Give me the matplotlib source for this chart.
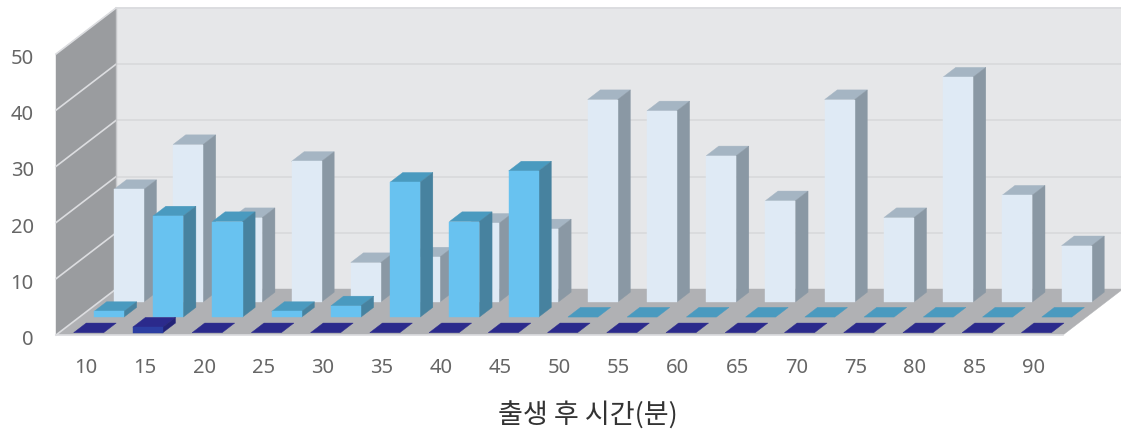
import matplotlib
matplotlib.use('Agg')
import matplotlib.pyplot as plt
from matplotlib.patches import Polygon
from matplotlib.transforms import ScaledTranslation

minutes = [10, 15, 20, 25, 30, 35, 40, 45, 50, 55, 60, 65, 70, 75, 80, 85, 90]
back_values = [20, 28, 15, 25, 7, 8, 14, 13, 36, 34, 26, 18, 36, 15, 40, 19, 10]
mid_values = [1, 18, 17, 1, 2, 24, 17, 26, 0, 0, 0, 0, 0, 0, 0, 0, 0]
front_values = [0, 1, 0, 0, 0, 0, 0, 0, 0, 0, 0, 0, 0, 0, 0, 0, 0]
y_ticks = [0, 10, 20, 30, 40, 50]

# one unit of depth, in data units (60px right and 46px up on the picture)
DX = 60 / 59.2
DY = 46 / 5.62
BAR_W = 30 / 59.2
BAR_GAP = (1 - BAR_W) / 2
BAR_DEPTH = 0.21

fig = plt.figure(figsize=(11.21, 4.30), dpi=100)
ax = fig.add_axes([56 / 1121, 1 - 335 / 430, 1007 / 1121, 281 / 430])
ax.set_xlim(0, len(minutes))
ax.set_ylim(0, 50)
ax.patch.set_alpha(0)
for spine in ax.spines.values():
    spine.set_visible(False)


def shape(points, color, zorder):
    ax.add_patch(Polygon(points, closed=True, facecolor=color, edgecolor=color,
                         linewidth=0.3, clip_on=False, zorder=zorder))


def draw_walls():
    n = len(minutes)
    shape([(DX, DY), (n + DX, DY), (n + DX, 50 + DY), (DX, 50 + DY)], '#e6e7e9', 1)
    shape([(0, 0), (n, 0), (n + DX, DY), (DX, DY)], '#b0b1b4', 1.5)
    shape([(0, 0), (DX, DY), (DX, 50 + DY), (0, 50)], '#9a9c9f', 1.5)
    for tick in y_ticks[1:]:
        ax.plot([DX, n + DX], [tick + DY, tick + DY], color='#d8d9db', lw=1.2,
                clip_on=False, zorder=1.2)
    for tick in y_ticks:
        ax.plot([0, DX], [tick, tick + DY], color='#dcdde0', lw=1.2,
                clip_on=False, zorder=1.8)
    ax.plot([0, n], [0, 0], color='#dcdde0', lw=1.2, clip_on=False, zorder=1.8)
    ax.plot([DX, DX], [DY, 50 + DY], color='#c6c7ca', lw=1, clip_on=False, zorder=1.8)
    ax.plot([DX, n + DX], [50 + DY, 50 + DY], color='#dcdde0', lw=1.2,
            clip_on=False, zorder=1.8)


def draw_series(values, depth, front_color, top_color, side_color, zorder):
    x_off = depth * DX
    y_off = depth * DY
    dx = BAR_DEPTH * DX
    dy = BAR_DEPTH * DY
    for i, value in enumerate(values):
        left = i + BAR_GAP + x_off
        right = left + BAR_W
        top = y_off + value
        shape([(left, top), (right, top), (right + dx, top + dy), (left + dx, top + dy)],
              top_color, zorder)
        if value > 0:
            shape([(right, y_off), (right + dx, y_off + dy), (right + dx, top + dy), (right, top)],
                  side_color, zorder)
            ax.bar(left, value, width=BAR_W, bottom=y_off, align='edge', color=front_color,
                   edgecolor=front_color, linewidth=0.3, clip_on=False, zorder=zorder + 0.1)


draw_walls()
draw_series(back_values, 0.72, '#dfeaf5', '#a5b5c3', '#8a98a4', 3)
draw_series(mid_values, 0.39, '#68c2f0', '#4a9abf', '#47829f', 4)
draw_series(front_values, 0.05, '#2c3ea2', '#2b2a8c', '#232377', 5)

ax.set_xticks([i + 0.5 for i in range(len(minutes))])
ax.set_xticklabels(minutes)
ax.set_yticks(y_ticks)
ax.tick_params(axis='both', length=0, labelsize=14.5, labelcolor='#666666')
ax.tick_params(axis='x', pad=16.7)
ax.tick_params(axis='y', pad=16)
for label in ax.get_xticklabels() + ax.get_yticklabels():
    label.set_family('Noto Sans')
# y labels sit a little below their gridlines
nudge = ScaledTranslation(0, -2.5 / 100, fig.dpi_scale_trans)
for label in ax.get_yticklabels():
    label.set_transform(label.get_transform() + nudge)

fig.text(588 / 1121, 1 - 416 / 430, '출생 후 시간(분)', ha='center', va='center',
         fontsize=19.5, color='#333333', family=['Noto Sans CJK KR', 'DejaVu Sans'])

fig.savefig('out.png', dpi=100)
